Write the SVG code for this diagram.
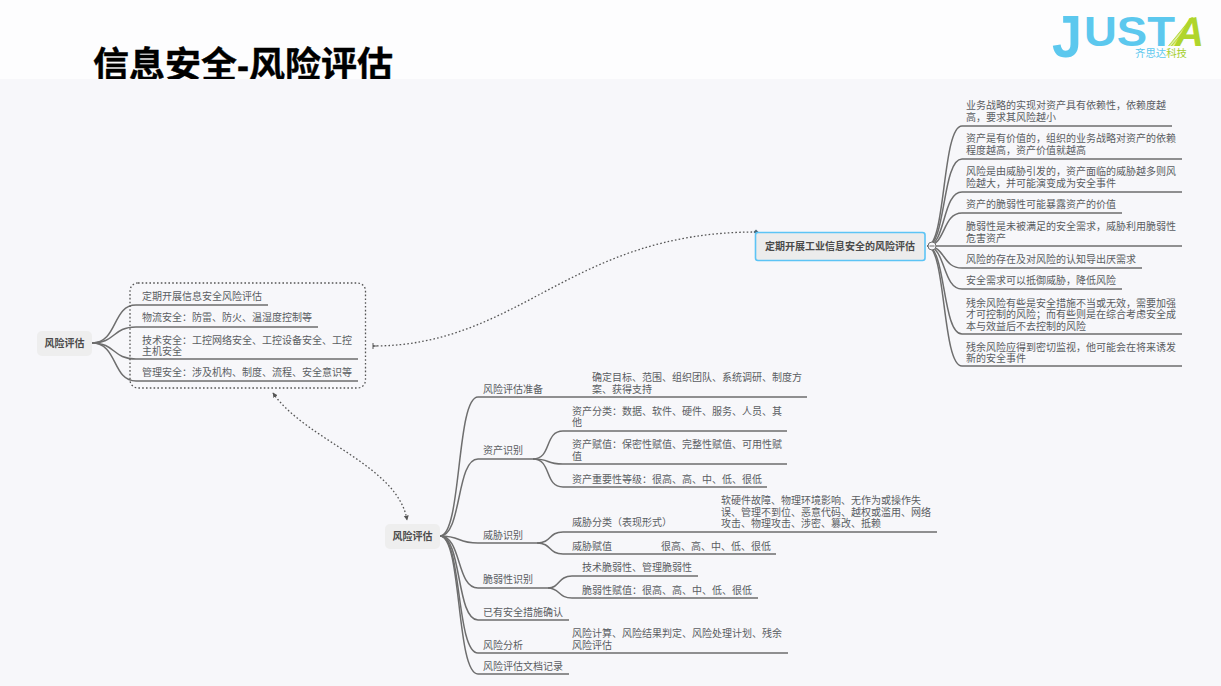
<svg xmlns="http://www.w3.org/2000/svg" width="1221" height="686" viewBox="0 0 1221 686">
<style>
text{font-family:"Liberation Sans","Noto Sans CJK SC",sans-serif;font-size:10px;fill:#5a5d62}
.b{font-weight:700;fill:#4a4a4a}
.r{fill:#eeeeee}
.l{fill:none;stroke:#6e6e6e;stroke-width:1.5}
.d{fill:none;stroke:#555;stroke-width:1.3;stroke-dasharray:1.6 2.2}
.lg{font-family:"Liberation Sans",sans-serif;font-weight:700;fill:#5cc8ee}
</style>
<defs>
<marker id="ah" markerWidth="6" markerHeight="6" refX="4.500" refY="2.500" orient="auto-start-reverse" markerUnits="userSpaceOnUse"><path d="M0 0L5 2.500L0 5z" fill="#555"/></marker>
<marker id="dot" markerWidth="6" markerHeight="6" refX="3" refY="3" orient="auto" markerUnits="userSpaceOnUse"><path d="M3 .5L5.500 3L3 5.500L.5 3z" fill="#4a6a7a"/></marker>
<marker id="tick" markerWidth="6" markerHeight="8" refX="1" refY="4" orient="auto" markerUnits="userSpaceOnUse"><path d="M1 1V7M1 4H5" stroke="#555" fill="none"/></marker>
<pattern id="hatch" width="2.400" height="2.400" patternUnits="userSpaceOnUse" patternTransform="rotate(-50)"><rect width="2.400" height="2.400" fill="#e6f2b8"/><rect width="2.400" height="1.100" fill="#b5d93a"/></pattern>
</defs>
<rect width="1221" height="686" fill="#fdfdfe"/>
<text x="93" y="78" style="font-size:36px;font-weight:700;fill:#000;stroke:#000;stroke-width:.4" textLength="300">信息安全-风险评估</text>
<rect y="79" width="1221" height="607" fill="#f7f7fa"/>

<g id="logo">
<text class="lg" x="1052" y="57" style="font-size:60px" textLength="30" lengthAdjust="spacingAndGlyphs">J</text>
<text class="lg" x="1084" y="46" style="font-size:43px" textLength="91" lengthAdjust="spacingAndGlyphs">UST</text>
<polygon points="1168,46 1174,46 1197,17 1191,17" fill="url(#hatch)"/>
<text class="lg" x="1175" y="46" style="font-size:41px;font-style:italic;fill:#b0d52c" textLength="29" lengthAdjust="spacingAndGlyphs">A</text>
<text x="1135" y="57" style="font-size:10.400px;fill:#5cc8ee">齐思达<tspan style="fill:#a5cf2e">科技</tspan></text>
</g>

<g id="connectors">
<path class="d" d="M373 346C520 346 570 232 756 232" marker-start="url(#tick)" marker-end="url(#dot)"/>
<path class="d" d="M273 393C305 440 398 465 407 520" marker-start="url(#ah)" marker-end="url(#ah)"/>
<g class="branches">
<path class="l" d="M92 343C118 343 112 305 136 305H268"/>
<path class="l" d="M92 343C116 343 112 327 136 327H318"/>
<path class="l" d="M92 343C116 343 112 359 136 359H358"/>
<path class="l" d="M92 343C118 343 112 381 136 381H358"/>

<path class="l" d="M927 246C946 246 942 126 962 126H1172"/>
<path class="l" d="M927 246C946 246 942 159 962 159H1182"/>
<path class="l" d="M927 246C946 246 942 192 962 192H1182"/>
<path class="l" d="M927 246C946 246 942 213 962 213H1122"/>
<path class="l" d="M927 246H1182"/>
<path class="l" d="M927 246C946 246 942 268 962 268H1142"/>
<path class="l" d="M927 246C946 246 942 289 962 289H1122"/>
<path class="l" d="M927 246C946 246 942 334 962 334H1182"/>
<path class="l" d="M927 246C946 246 942 366 962 366H1182"/>

<path class="l" d="M440 536C462 536 456 397 478 397H807"/>
<path class="l" d="M440 536C462 536 456 459 478 459H533"/>
<path class="l" d="M533 459C552 459 544 431 563 431H787"/>
<path class="l" d="M533 459C552 459 544 464 563 464H787"/>
<path class="l" d="M533 459C552 459 544 487 563 487H767"/>
<path class="l" d="M440 536C462 536 456 543 478 543H537"/>
<path class="l" d="M537 543C552 543 548 532 563 532H937"/>
<path class="l" d="M537 543C552 543 548 554 563 554H776"/>
<path class="l" d="M440 536C462 536 456 588 478 588H548"/>
<path class="l" d="M548 588C560 588 558 576 572 576H698"/>
<path class="l" d="M548 588C560 588 558 598 572 598H758"/>
<path class="l" d="M440 536C462 536 456 620 478 620H569"/>
<path class="l" d="M440 536C462 536 456 653 478 653H788"/>
<path class="l" d="M440 536C462 536 456 674 478 674H569"/>
</g>
</g>

<g id="group-left">
<rect x="130" y="283" width="235.500" height="105" rx="8" class="d"/>
</g>
<g id="root-left">
<rect class="r" x="37" y="331" width="55" height="25" rx="5"/>
<text class="b" x="64.500" y="346.500" text-anchor="middle">风险评估</text>
</g>
<g id="left-1"><text x="142" y="299.500">定期开展信息安全风险评估</text></g>
<g id="left-2"><text x="142" y="321">物流安全：防雷、防火、温湿度控制等</text></g>
<g id="left-3"><text x="142" y="343.500">技术安全：工控网络安全、工控设备安全、工控</text><text x="142" y="355">主机安全</text></g>
<g id="left-4"><text x="142" y="375.500">管理安全：涉及机构、制度、流程、安全意识等</text></g>

<g id="root-right">
<rect x="755.500" y="232.500" width="169.500" height="28" rx="2.500" fill="#ececec" stroke="#5cc4f5" stroke-width="1.600"/>
<text class="b" x="840" y="250" text-anchor="middle">定期开展工业信息安全的风险评估</text>
<circle cx="932" cy="246" r="4" fill="#f7f7fa" stroke="#6e6e6e"/>
<path d="M929.500 246H934.500" stroke="#6e6e6e"/>
</g>
<g id="right-1"><text x="966" y="109">业务战略的实现对资产具有依赖性，依赖度越</text><text x="966" y="121">高，要求其风险越小</text></g>
<g id="right-2"><text x="966" y="142">资产是有价值的，组织的业务战略对资产的依赖</text><text x="966" y="154">程度越高，资产价值就越高</text></g>
<g id="right-3"><text x="966" y="175">风险是由威胁引发的，资产面临的威胁越多则风</text><text x="966" y="187">险越大，并可能演变成为安全事件</text></g>
<g id="right-4"><text x="966" y="208">资产的脆弱性可能暴露资产的价值</text></g>
<g id="right-5"><text x="966" y="230">脆弱性是未被满足的安全需求，威胁利用脆弱性</text><text x="966" y="242">危害资产</text></g>
<g id="right-6"><text x="966" y="262.500">风险的存在及对风险的认知导出厌需求</text></g>
<g id="right-7"><text x="966" y="284">安全需求可以抵御威胁，降低风险</text></g>
<g id="right-8"><text x="966" y="306.500">残余风险有些是安全措施不当或无效，需要加强</text><text x="966" y="318">才可控制的风险；而有些则是在综合考虑安全成</text><text x="966" y="329.500">本与效益后不去控制的风险</text></g>
<g id="right-9"><text x="966" y="350.500">残余风险应得到密切监视，他可能会在将来诱发</text><text x="966" y="362">新的安全事件</text></g>

<g id="root-bottom">
<rect class="r" x="385" y="524" width="55" height="25" rx="5"/>
<text class="b" x="412.500" y="539.500" text-anchor="middle">风险评估</text>
</g>
<g id="b-1"><text x="483" y="392.500">风险评估准备</text></g>
<g id="b-1-1"><text x="592" y="381">确定目标、范围、组织团队、系统调研、制度方</text><text x="592" y="392.500">案、获得支持</text></g>
<g id="b-2"><text x="483" y="453.500">资产识别</text></g>
<g id="b-2-1"><text x="572" y="414.500">资产分类：数据、软件、硬件、服务、人员、其</text><text x="572" y="426">他</text></g>
<g id="b-2-2"><text x="572" y="448">资产赋值：保密性赋值、完整性赋值、可用性赋</text><text x="572" y="459.500">值</text></g>
<g id="b-2-3"><text x="572" y="482.500">资产重要性等级：很高、高、中、低、很低</text></g>
<g id="b-3"><text x="483" y="538.500">威胁识别</text></g>
<g id="b-3-1"><text x="572" y="526">威胁分类（表现形式）</text></g>
<g id="b-3-1-1"><text x="721" y="504">软硬件故障、物理环境影响、无作为或操作失</text><text x="721" y="515.500">误、管理不到位、恶意代码、越权或滥用、网络</text><text x="721" y="527">攻击、物理攻击、涉密、篡改、抵赖</text></g>
<g id="b-3-2"><text x="572" y="549.500">威胁赋值</text></g>
<g id="b-3-2-1"><text x="661" y="549.500">很高、高、中、低、很低</text></g>
<g id="b-4"><text x="483" y="582.500">脆弱性识别</text></g>
<g id="b-4-1"><text x="582" y="570.500">技术脆弱性、管理脆弱性</text></g>
<g id="b-4-2"><text x="582" y="593.500">脆弱性赋值：很高、高、中、低、很低</text></g>
<g id="b-5"><text x="483" y="615.500">已有安全措施确认</text></g>
<g id="b-6"><text x="483" y="648.500">风险分析</text></g>
<g id="b-6-1"><text x="572" y="636.500">风险计算、风险结果判定、风险处理计划、残余</text><text x="572" y="648.500">风险评估</text></g>
<g id="b-7"><text x="483" y="669.500">风险评估文档记录</text></g>
</svg>
